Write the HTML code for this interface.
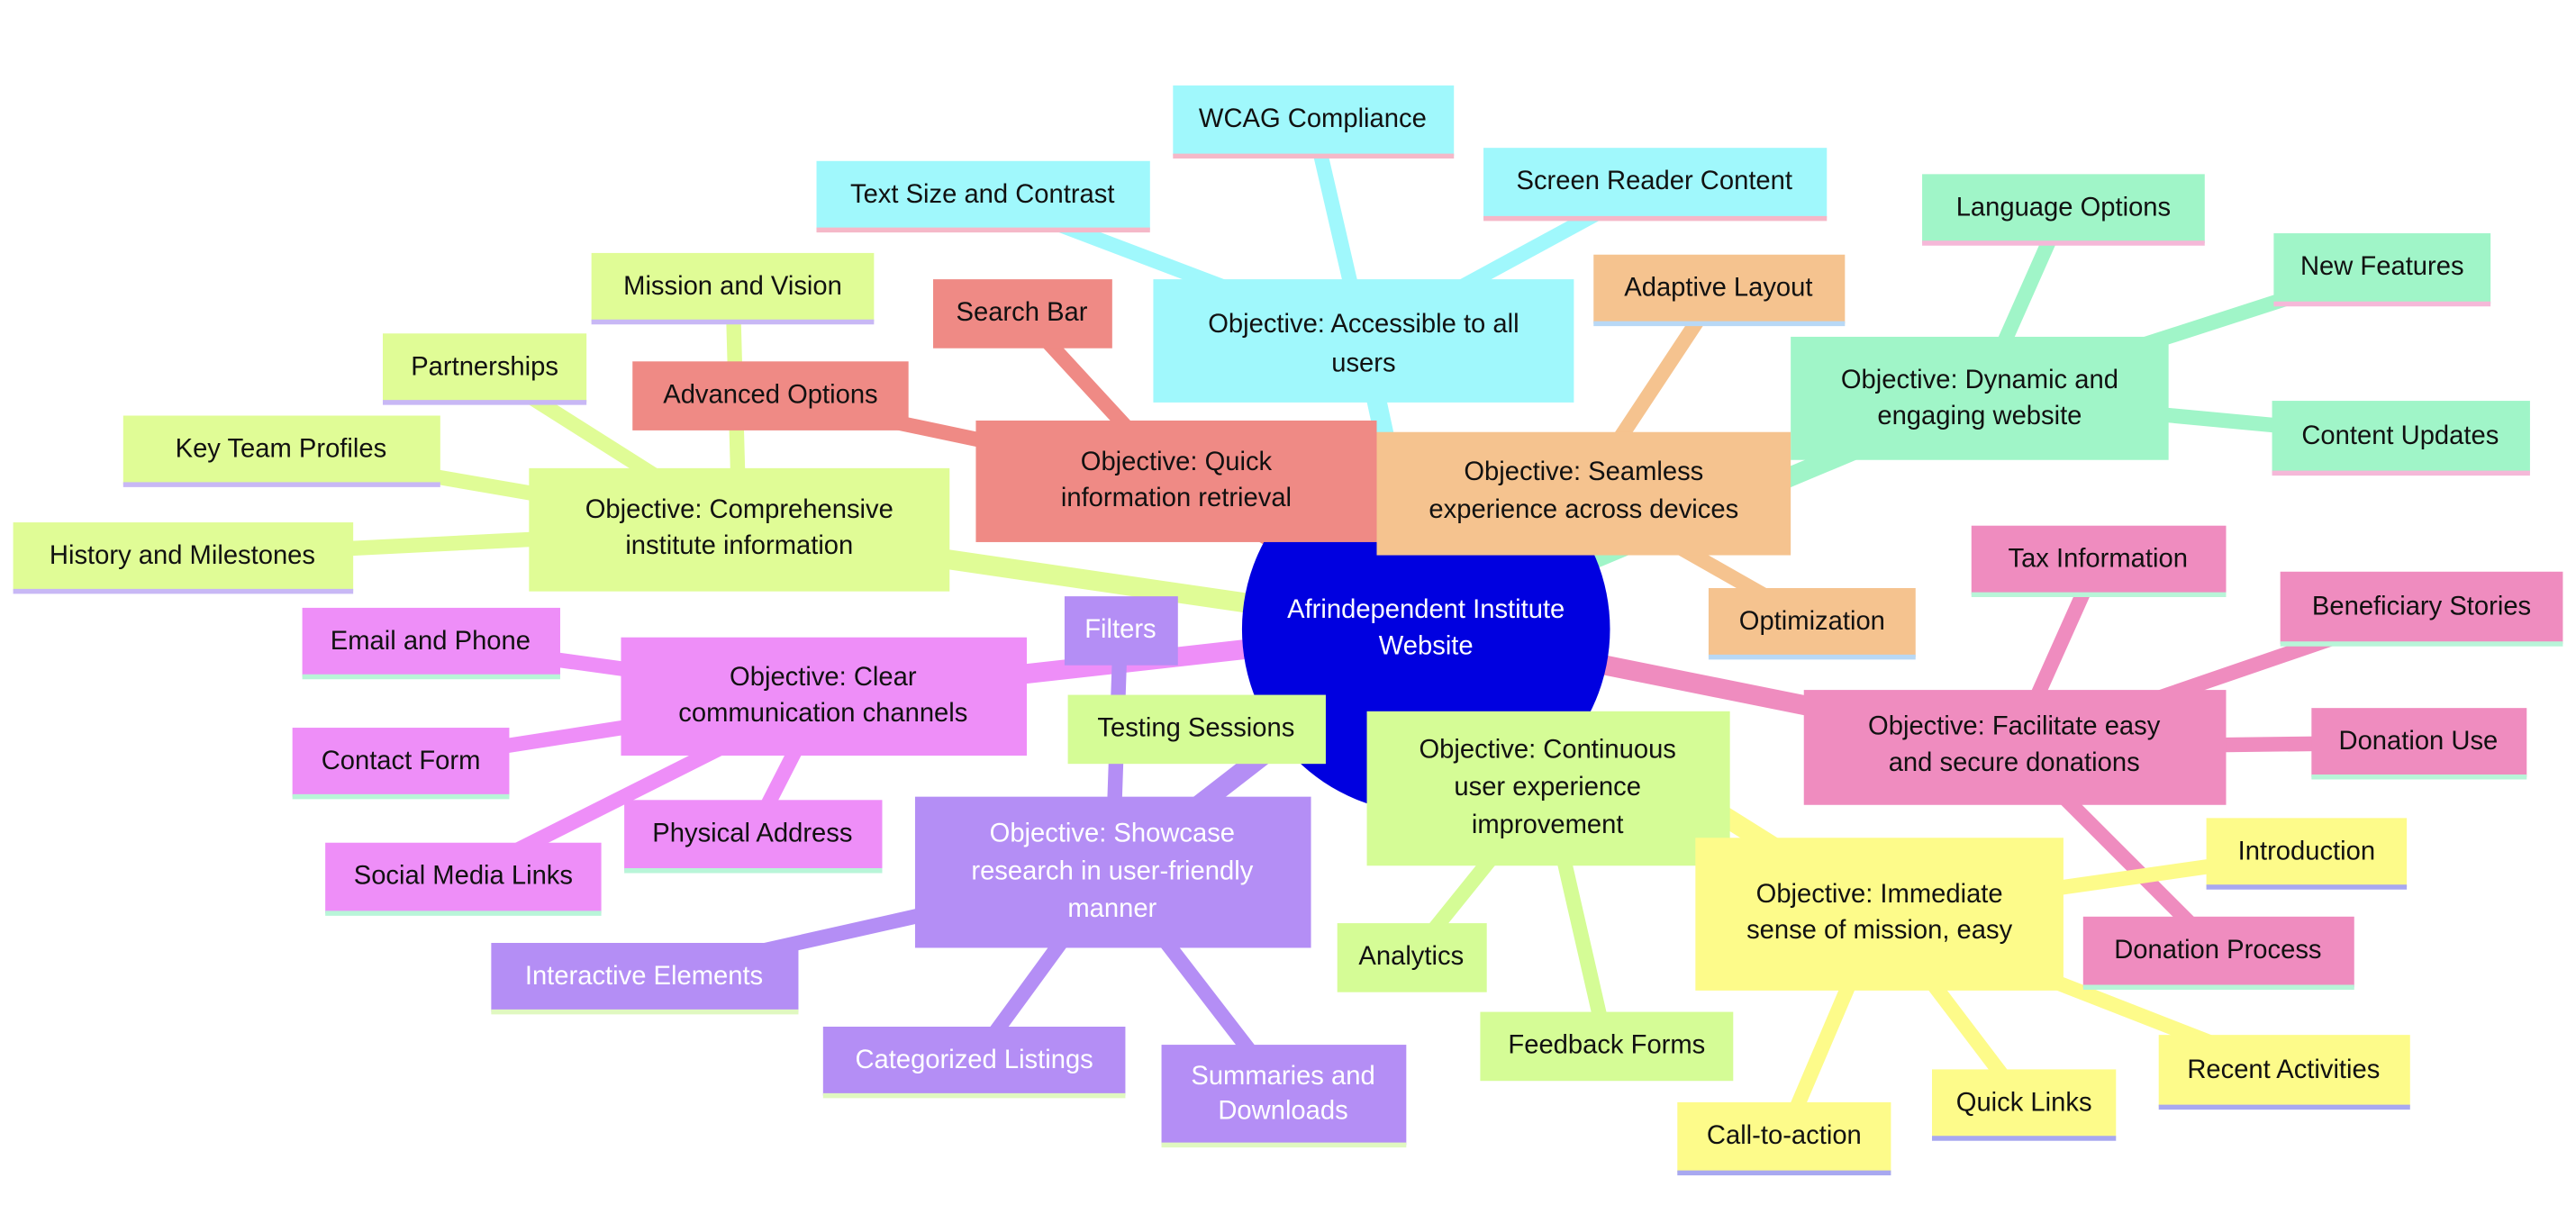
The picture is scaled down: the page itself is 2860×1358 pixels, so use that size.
<!DOCTYPE html>
<html><head><meta charset="utf-8"><style>
html,body{margin:0;padding:0;background:#fff;}
svg{display:block}
text{font-family:"Liberation Sans",sans-serif;font-size:16px;fill:#111;text-anchor:middle;dominant-baseline:middle}
</style></head><body>
<svg width="2860" height="1358" viewBox="0 0 1568 744.5" xmlns="http://www.w3.org/2000/svg">
<g stroke-linecap="round" fill="none">
<!-- center edges -->
<g stroke-width="12">
<line x1="868" y1="383" x2="830" y2="207" stroke="#a0f8fc"/>
<line x1="868" y1="383" x2="1205" y2="242" stroke="#a0f5c8"/>
<line x1="868" y1="383" x2="964" y2="300" stroke="#f5c38f"/>
<line x1="868" y1="383" x2="716" y2="293" stroke="#ef8a85"/>
<line x1="868" y1="383" x2="450" y2="322" stroke="#e0fc96"/>
<line x1="868" y1="383" x2="501" y2="424" stroke="#ee8ef8"/>
<line x1="868" y1="383" x2="677" y2="531" stroke="#b48ef5"/>
<line x1="868" y1="383" x2="942" y2="480" stroke="#d5fc96"/>
<line x1="868" y1="383" x2="1226" y2="455" stroke="#ef8cbf"/>
<line x1="868" y1="383" x2="1144" y2="556" stroke="#fdfb8a"/>
</g>
<g stroke-width="9">
<g stroke="#a0f8fc"><line x1="830" y1="207" x2="799" y2="73"/><line x1="830" y1="207" x2="598" y2="119"/><line x1="830" y1="207" x2="1007" y2="111"/></g>
<g stroke="#a0f5c8"><line x1="1205" y1="242" x2="1256" y2="127"/><line x1="1205" y1="242" x2="1450" y2="163"/><line x1="1205" y1="242" x2="1461" y2="266"/></g>
<g stroke="#f5c38f"><line x1="964" y1="300" x2="1046" y2="176"/><line x1="964" y1="300" x2="1103" y2="379"/></g>
<g stroke="#ef8a85"><line x1="716" y1="293" x2="622" y2="191"/><line x1="716" y1="293" x2="469" y2="241"/></g>
<g stroke="#e0fc96"><line x1="450" y1="322" x2="446" y2="175"/><line x1="450" y1="322" x2="295" y2="224"/><line x1="450" y1="322" x2="171" y2="274"/><line x1="450" y1="322" x2="111" y2="339"/></g>
<g stroke="#ee8ef8"><line x1="501" y1="424" x2="262" y2="391"/><line x1="501" y1="424" x2="244" y2="464"/><line x1="501" y1="424" x2="458" y2="508"/><line x1="501" y1="424" x2="282" y2="534"/></g>
<g stroke="#b48ef5"><line x1="677" y1="531" x2="682" y2="384"/><line x1="677" y1="531" x2="392" y2="595"/><line x1="677" y1="531" x2="593" y2="646"/><line x1="677" y1="531" x2="781" y2="666"/></g>
<g stroke="#d5fc96"><line x1="942" y1="480" x2="728" y2="444"/><line x1="942" y1="480" x2="859" y2="583"/><line x1="942" y1="480" x2="978" y2="637"/></g>
<g stroke="#ef8cbf"><line x1="1226" y1="455" x2="1277" y2="341"/><line x1="1226" y1="455" x2="1474" y2="370"/><line x1="1226" y1="455" x2="1472" y2="452"/><line x1="1226" y1="455" x2="1350" y2="579"/></g>
<g stroke="#fdfb8a"><line x1="1144" y1="556" x2="1404" y2="519"/><line x1="1144" y1="556" x2="1390" y2="652"/><line x1="1144" y1="556" x2="1232" y2="672"/><line x1="1144" y1="556" x2="1086" y2="692"/></g>
</g>
</g>
<circle cx="868" cy="383" r="112" fill="#0000e0"/>
<text x="868" y="372" style="fill:#fff">Afrindependent Institute</text>
<text x="868" y="394" style="fill:#fff">Website</text>

<!-- Accessible -->
<g fill="#a0f8fc">
<rect x="702" y="170" width="256" height="75"/><rect x="714" y="52" width="171" height="43"/><rect x="497" y="98" width="203" height="42"/><rect x="903" y="90" width="209" height="43"/>
</g>
<g stroke="#f5b8c8" stroke-width="3"><line x1="714" y1="95" x2="885" y2="95"/><line x1="497" y1="140" x2="700" y2="140"/><line x1="903" y1="133" x2="1112" y2="133"/></g>
<text x="830" y="198">Objective: Accessible to all</text><text x="830" y="222">users</text>
<text x="799" y="73">WCAG Compliance</text><text x="598" y="119">Text Size and Contrast</text><text x="1007" y="111">Screen Reader Content</text>

<!-- Dynamic -->
<g fill="#a0f5c8">
<rect x="1090" y="205" width="230" height="75"/><rect x="1170" y="106" width="172" height="42"/><rect x="1384" y="142" width="132" height="43"/><rect x="1383" y="244" width="157" height="44"/>
</g>
<g stroke="#f5b8d8" stroke-width="3"><line x1="1170" y1="148" x2="1342" y2="148"/><line x1="1384" y1="185" x2="1516" y2="185"/><line x1="1383" y1="288" x2="1540" y2="288"/></g>
<text x="1205" y="232">Objective: Dynamic and</text><text x="1205" y="254">engaging website</text>
<text x="1256" y="127">Language Options</text><text x="1450" y="163">New Features</text><text x="1461" y="266">Content Updates</text>

<!-- Seamless -->
<g fill="#f5c38f">
<rect x="838" y="263" width="252" height="75"/><rect x="970" y="155" width="153" height="42"/><rect x="1040" y="358" width="126" height="42"/>
</g>
<g stroke="#b8d8f5" stroke-width="3"><line x1="970" y1="197" x2="1123" y2="197"/><line x1="1040" y1="400" x2="1166" y2="400"/></g>
<text x="964" y="288">Objective: Seamless</text><text x="964" y="311">experience across devices</text>
<text x="1046" y="176">Adaptive Layout</text><text x="1103" y="379">Optimization</text>

<!-- Quick -->
<g fill="#ef8a85">
<rect x="594" y="256" width="244" height="74"/><rect x="568" y="170" width="109" height="42"/><rect x="385" y="220" width="168" height="42"/>
</g>
<text x="716" y="282">Objective: Quick</text><text x="716" y="304">information retrieval</text>
<text x="622" y="191">Search Bar</text><text x="469" y="241">Advanced Options</text>

<!-- Comprehensive -->
<g fill="#e0fc96">
<rect x="322" y="285" width="256" height="75"/><rect x="360" y="154" width="172" height="42"/><rect x="233" y="203" width="124" height="42"/><rect x="75" y="253" width="193" height="42"/><rect x="8" y="318" width="207" height="42"/>
</g>
<g stroke="#c8b8f5" stroke-width="3"><line x1="360" y1="196" x2="532" y2="196"/><line x1="233" y1="245" x2="357" y2="245"/><line x1="75" y1="295" x2="268" y2="295"/><line x1="8" y1="360" x2="215" y2="360"/></g>
<text x="450" y="311">Objective: Comprehensive</text><text x="450" y="333">institute information</text>
<text x="446" y="175">Mission and Vision</text><text x="295" y="224">Partnerships</text><text x="171" y="274">Key Team Profiles</text><text x="111" y="339">History and Milestones</text>

<!-- Clear -->
<g fill="#ee8ef8">
<rect x="378" y="388" width="247" height="72"/><rect x="184" y="370" width="157" height="42"/><rect x="178" y="443" width="132" height="42"/><rect x="380" y="487" width="157" height="43"/><rect x="198" y="513" width="168" height="43"/>
</g>
<g stroke="#b8f5d8" stroke-width="3"><line x1="184" y1="412" x2="341" y2="412"/><line x1="178" y1="485" x2="310" y2="485"/><line x1="380" y1="530" x2="537" y2="530"/><line x1="198" y1="556" x2="366" y2="556"/></g>
<text x="501" y="413">Objective: Clear</text><text x="501" y="435">communication channels</text>
<text x="262" y="391">Email and Phone</text><text x="244" y="464">Contact Form</text><text x="458" y="508">Physical Address</text><text x="282" y="534">Social Media Links</text>

<!-- Showcase -->
<g fill="#b48ef5">
<rect x="557" y="485" width="241" height="92"/><rect x="648" y="363" width="69" height="42"/><rect x="299" y="574" width="187" height="42"/><rect x="501" y="625" width="184" height="42"/><rect x="707" y="636" width="149" height="61"/>
</g>
<g stroke="#e0f8c0" stroke-width="3"><line x1="299" y1="616" x2="486" y2="616"/><line x1="501" y1="667" x2="685" y2="667"/><line x1="707" y1="697" x2="856" y2="697"/></g>
<g style="fill:#fff">
<text x="677" y="508" style="fill:#fff">Objective: Showcase</text><text x="677" y="531" style="fill:#fff">research in user-friendly</text><text x="677" y="554" style="fill:#fff">manner</text>
<text x="682" y="384" style="fill:#fff">Filters</text><text x="392" y="595" style="fill:#fff">Interactive Elements</text><text x="593" y="646" style="fill:#fff">Categorized Listings</text><text x="781" y="656" style="fill:#fff">Summaries and</text><text x="781" y="677" style="fill:#fff">Downloads</text>
</g>

<!-- Continuous -->
<g fill="#d5fc96">
<rect x="832" y="433" width="221" height="94"/><rect x="650" y="423" width="157" height="42"/><rect x="814" y="562" width="91" height="42"/><rect x="901" y="616" width="154" height="42"/>
</g>
<text x="942" y="457">Objective: Continuous</text><text x="942" y="480">user experience</text><text x="942" y="503">improvement</text>
<text x="728" y="444">Testing Sessions</text><text x="859" y="583">Analytics</text><text x="978" y="637">Feedback Forms</text>

<!-- Facilitate -->
<g fill="#ef8cbf">
<rect x="1098" y="420" width="257" height="70"/><rect x="1200" y="320" width="155" height="42"/><rect x="1388" y="348" width="172" height="44"/><rect x="1407" y="431" width="131" height="42"/><rect x="1268" y="558" width="165" height="43"/>
</g>
<g stroke="#b8f5d8" stroke-width="3"><line x1="1200" y1="362" x2="1355" y2="362"/><line x1="1388" y1="392" x2="1560" y2="392"/><line x1="1407" y1="473" x2="1538" y2="473"/><line x1="1268" y1="601" x2="1433" y2="601"/></g>
<text x="1226" y="443">Objective: Facilitate easy</text><text x="1226" y="465">and secure donations</text>
<text x="1277" y="341">Tax Information</text><text x="1474" y="370">Beneficiary Stories</text><text x="1472" y="452">Donation Use</text><text x="1350" y="579">Donation Process</text>

<!-- Immediate -->
<g fill="#fdfb8a">
<rect x="1032" y="510" width="224" height="93"/><rect x="1343" y="498" width="122" height="42"/><rect x="1314" y="630" width="153" height="44"/><rect x="1176" y="651" width="112" height="42"/><rect x="1021" y="671" width="130" height="43"/>
</g>
<g stroke="#a8a8f0" stroke-width="3"><line x1="1343" y1="540" x2="1465" y2="540"/><line x1="1314" y1="674" x2="1467" y2="674"/><line x1="1176" y1="693" x2="1288" y2="693"/><line x1="1021" y1="714" x2="1151" y2="714"/></g>
<text x="1144" y="545">Objective: Immediate</text><text x="1144" y="567">sense of mission, easy</text><text x="1144" y="589" style="display:none"></text>
<text x="1137" y="577" style="display:none"></text>
<text x="1404" y="519">Introduction</text><text x="1390" y="652">Recent Activities</text><text x="1232" y="672">Quick Links</text><text x="1086" y="692">Call-to-action</text>
</svg>
</body></html>
